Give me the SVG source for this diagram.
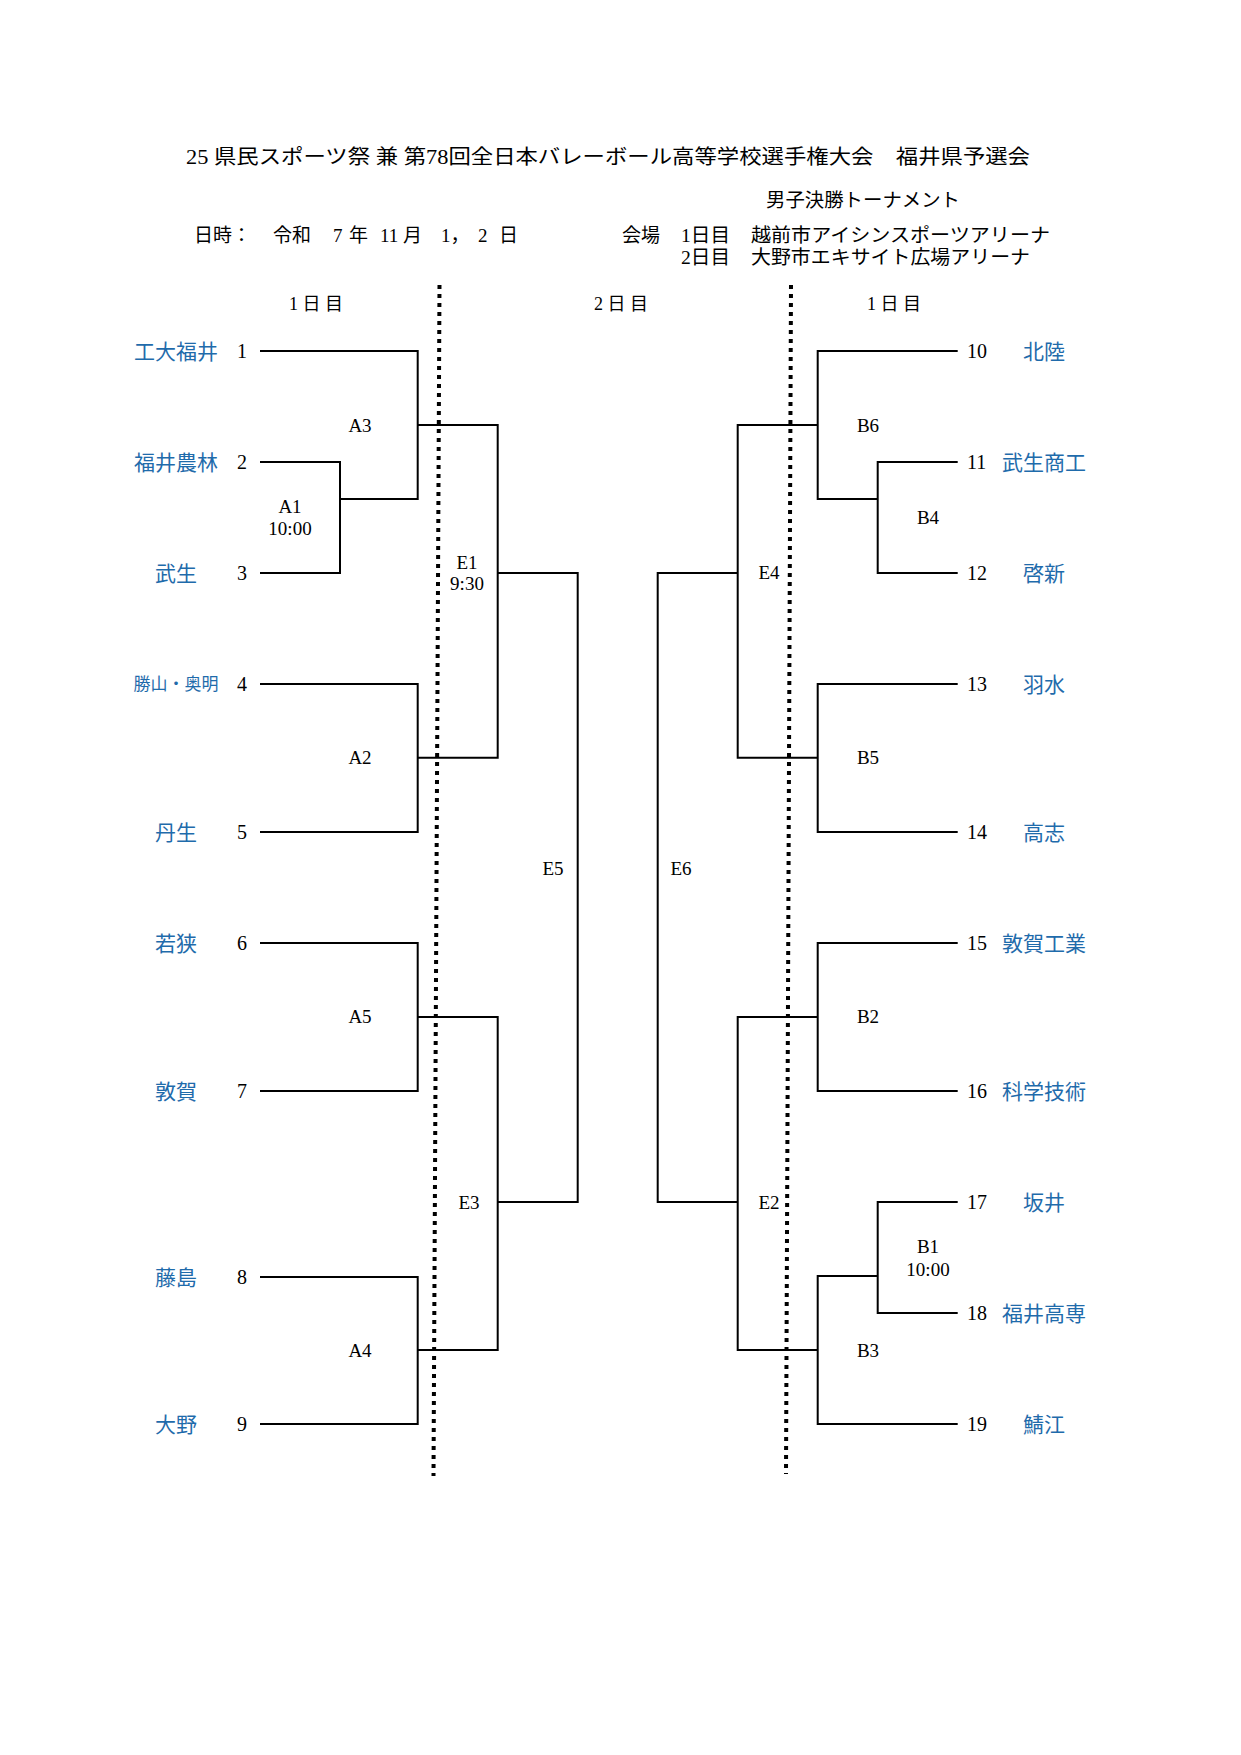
<svg xmlns="http://www.w3.org/2000/svg" width="1241" height="1755" viewBox="0 0 1241 1755">
<style>
.hd{font-family:"Liberation Serif","Noto Sans CJK JP",serif;font-size:19px;fill:#000}
.nm{font-family:"Noto Sans CJK JP",sans-serif;font-size:21px;fill:#1f6bab;text-anchor:middle}
.num{font-family:"Liberation Serif","Noto Sans CJK JP",serif;font-size:20px;fill:#000}
.lb{font-family:"Liberation Serif","Noto Sans CJK JP",serif;font-size:19px;fill:#000;text-anchor:middle}
.ln{fill:none;stroke:#000;stroke-width:2}
.dot{fill:none;stroke:#000;stroke-width:4;stroke-dasharray:4 5}
</style>
<rect width="1241" height="1755" fill="#fff"/>
<g id="header">
<text class="hd" x="186" y="164" style="font-size:20px" textLength="844" lengthAdjust="spacingAndGlyphs">25 県民スポーツ祭 兼 第78回全日本バレーボール高等学校選手権大会　福井県予選会</text>
<text class="hd" x="766" y="207" textLength="194" lengthAdjust="spacingAndGlyphs">男子決勝トーナメント</text>
<text class="hd" x="194" y="242">日時：</text>
<text class="hd" y="242"><tspan x="273">令和</tspan><tspan x="333">7</tspan><tspan x="349">年</tspan><tspan x="380">11</tspan><tspan x="403">月</tspan><tspan x="441">1，</tspan><tspan x="478">2</tspan><tspan x="499">日</tspan></text>
<text class="hd" x="622" y="242">会場</text>
<text class="hd" x="681" y="242" textLength="49" lengthAdjust="spacingAndGlyphs">1日目</text>
<text class="hd" x="751" y="242" textLength="299" lengthAdjust="spacingAndGlyphs">越前市アイシンスポーツアリーナ</text>
<text class="hd" x="681" y="264" textLength="49" lengthAdjust="spacingAndGlyphs">2日目</text>
<text class="hd" x="751" y="264" textLength="279" lengthAdjust="spacingAndGlyphs">大野市エキサイト広場アリーナ</text>
<text class="hd" x="289" y="310" style="font-size:18px" textLength="54" lengthAdjust="spacing">1 日 目</text>
<text class="hd" x="594" y="310" style="font-size:18px" textLength="54" lengthAdjust="spacing">2 日 目</text>
<text class="hd" x="867" y="310" style="font-size:18px" textLength="54" lengthAdjust="spacing">1 日 目</text>
</g>
<g id="day-dividers">
<line class="dot" x1="439.5" y1="285" x2="433.5" y2="1476"/>
<line class="dot" x1="791" y1="285" x2="786" y2="1474"/>
</g>
<g id="connectors">
<polyline class="ln" points="260,351 417.7,351 417.7,499 340,499"/>
<polyline class="ln" points="260,462 340,462 340,573 260,573"/>
<polyline class="ln" points="417.7,425 497.7,425 497.7,757.7 417.7,757.7"/>
<polyline class="ln" points="260,684 417.7,684 417.7,832 260,832"/>
<polyline class="ln" points="497.7,573 577.7,573 577.7,1202 497.7,1202"/>
<polyline class="ln" points="260,943 417.7,943 417.7,1091 260,1091"/>
<polyline class="ln" points="417.7,1017 497.7,1017 497.7,1350 417.7,1350"/>
<polyline class="ln" points="260,1277 417.7,1277 417.7,1424 260,1424"/>
<polyline class="ln" points="957.7,351 817.7,351 817.7,499 877.7,499"/>
<polyline class="ln" points="957.7,462 877.7,462 877.7,573 957.7,573"/>
<polyline class="ln" points="817.7,425 737.7,425 737.7,757.7 817.7,757.7"/>
<polyline class="ln" points="957.7,684 817.7,684 817.7,832 957.7,832"/>
<polyline class="ln" points="737.7,573 657.7,573 657.7,1202 737.7,1202"/>
<polyline class="ln" points="957.7,943 817.7,943 817.7,1091 957.7,1091"/>
<polyline class="ln" points="817.7,1017 737.7,1017 737.7,1350 817.7,1350"/>
<polyline class="ln" points="957.7,1202 877.7,1202 877.7,1313 957.7,1313"/>
<polyline class="ln" points="877.7,1276 817.7,1276 817.7,1424 957.7,1424"/>
</g>
<g id="team-1"><text class="nm" x="176" y="358.5">工大福井</text><text class="num" x="242" y="358" text-anchor="middle">1</text></g>
<g id="team-2"><text class="nm" x="176" y="469.5">福井農林</text><text class="num" x="242" y="469" text-anchor="middle">2</text></g>
<g id="team-3"><text class="nm" x="176" y="580.5">武生</text><text class="num" x="242" y="580" text-anchor="middle">3</text></g>
<g id="team-4"><text class="nm" x="176" y="690" style="font-size:17px">勝山・奥明</text><text class="num" x="242" y="691" text-anchor="middle">4</text></g>
<g id="team-5"><text class="nm" x="176" y="839.5">丹生</text><text class="num" x="242" y="839" text-anchor="middle">5</text></g>
<g id="team-6"><text class="nm" x="176" y="950.5">若狭</text><text class="num" x="242" y="950" text-anchor="middle">6</text></g>
<g id="team-7"><text class="nm" x="176" y="1098.5">敦賀</text><text class="num" x="242" y="1098" text-anchor="middle">7</text></g>
<g id="team-8"><text class="nm" x="176" y="1284.5">藤島</text><text class="num" x="242" y="1284" text-anchor="middle">8</text></g>
<g id="team-9"><text class="nm" x="176" y="1431.5">大野</text><text class="num" x="242" y="1431" text-anchor="middle">9</text></g>
<g id="team-10"><text class="num" x="967" y="358">10</text><text class="nm" x="1044" y="358.5">北陸</text></g>
<g id="team-11"><text class="num" x="967" y="469">11</text><text class="nm" x="1044" y="469.5">武生商工</text></g>
<g id="team-12"><text class="num" x="967" y="580">12</text><text class="nm" x="1044" y="580.5">啓新</text></g>
<g id="team-13"><text class="num" x="967" y="691">13</text><text class="nm" x="1044" y="691.5">羽水</text></g>
<g id="team-14"><text class="num" x="967" y="839">14</text><text class="nm" x="1044" y="839.5">高志</text></g>
<g id="team-15"><text class="num" x="967" y="950">15</text><text class="nm" x="1044" y="950.5">敦賀工業</text></g>
<g id="team-16"><text class="num" x="967" y="1098">16</text><text class="nm" x="1044" y="1098.5">科学技術</text></g>
<g id="team-17"><text class="num" x="967" y="1209">17</text><text class="nm" x="1044" y="1209.5">坂井</text></g>
<g id="team-18"><text class="num" x="967" y="1320">18</text><text class="nm" x="1044" y="1320.5">福井高専</text></g>
<g id="team-19"><text class="num" x="967" y="1431">19</text><text class="nm" x="1044" y="1431.5">鯖江</text></g>
<g id="match-A1"><text class="lb" x="290" y="513">A1</text><text class="lb" x="290" y="535">10:00</text></g>
<g id="match-A3"><text class="lb" x="360" y="431.5">A3</text></g>
<g id="match-A2"><text class="lb" x="360" y="764">A2</text></g>
<g id="match-A5"><text class="lb" x="360" y="1023">A5</text></g>
<g id="match-A4"><text class="lb" x="360" y="1357">A4</text></g>
<g id="match-E1"><text class="lb" x="467" y="569">E1</text><text class="lb" x="467" y="590">9:30</text></g>
<g id="match-E3"><text class="lb" x="469" y="1208.5">E3</text></g>
<g id="match-E5"><text class="lb" x="553" y="874.5">E5</text></g>
<g id="match-E6"><text class="lb" x="681" y="874.5">E6</text></g>
<g id="match-E4"><text class="lb" x="769" y="579">E4</text></g>
<g id="match-E2"><text class="lb" x="769" y="1208.5">E2</text></g>
<g id="match-B6"><text class="lb" x="868" y="431.5">B6</text></g>
<g id="match-B4"><text class="lb" x="928" y="524">B4</text></g>
<g id="match-B5"><text class="lb" x="868" y="764">B5</text></g>
<g id="match-B2"><text class="lb" x="868" y="1023">B2</text></g>
<g id="match-B1"><text class="lb" x="928" y="1253">B1</text><text class="lb" x="928" y="1275.5">10:00</text></g>
<g id="match-B3"><text class="lb" x="868" y="1357">B3</text></g>
</svg>
